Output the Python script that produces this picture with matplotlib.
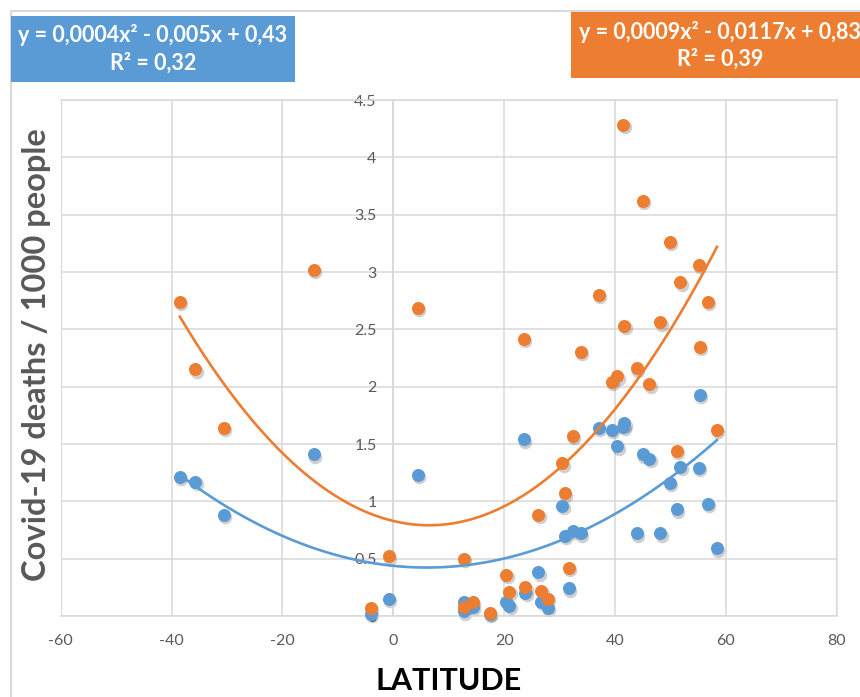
import numpy as np
import matplotlib
matplotlib.use("Agg")
from matplotlib import pyplot as plt
from matplotlib import transforms
from matplotlib.patches import Rectangle

plt.rcParams['font.family'] = ['Lato', 'DejaVu Sans']
plt.rcParams['axes.unicode_minus'] = False

# latitude of each country and deaths per 1000 people (two periods)
lat = [-38.5, -35.7, -30.6, -14.3, -4.1, -0.8, 4.4, 12.7, 12.7, 14.4, 17.4,
       20.4, 20.9, 23.5, 23.8, 26.2, 26.7, 27.9, 30.5, 31.0, 31.7, 32.4, 33.8,
       37.1, 39.4, 40.4, 41.5, 41.7, 43.9, 45.0, 46.2, 48.2, 49.85, 51.1, 51.8,
       55.1, 55.3, 56.8, 58.4]
deaths_blue = [1.21, 1.17, 0.88, 1.41, 0.02, 0.15, 1.23, 0.12, 0.04, 0.08, 0.02,
               0.12, 0.09, 1.54, 0.20, 0.38, 0.12, 0.07, 0.96, 0.70, 0.24, 0.74, 0.72,
               1.64, 1.62, 1.48, 1.65, 1.68, 0.72, 1.41, 1.37, 0.72, 1.16, 0.93, 1.30,
               1.29, 1.93, 0.98, 0.59]
deaths_orange = [2.74, 2.15, 1.64, 3.02, 0.07, 0.52, 2.69, 0.50, 0.08, 0.12, 0.03,
                 0.36, 0.21, 2.42, 0.25, 0.88, 0.22, 0.15, 1.33, 1.07, 0.42, 1.57, 2.30,
                 2.80, 2.04, 2.09, 4.28, 2.53, 2.16, 3.62, 2.02, 2.56, 3.26, 1.44, 2.91,
                 3.06, 2.35, 2.74, 1.62]

eq_blue = "y = 0,0004x\u00b2 - 0,005x + 0,43\nR\u00b2 = 0,32"
eq_orange = "y = 0,0009x\u00b2 - 0,0117x + 0,83\nR\u00b2 = 0,39"

xticks = [-60, -40, -20, 0, 20, 40, 60, 80]
yticks = [0, 0.5, 1, 1.5, 2, 2.5, 3, 3.5, 4, 4.5]

blue = '#5B9BD5'
orange = '#ED7D31'
grid = '#D9D9D9'
txt = '#595959'

fig = plt.figure(figsize=(8.6, 6.97), dpi=100)
ax = fig.add_axes([60.7/860, 1-616/697, (836.7-60.7)/860, (616-100)/697])

shadow = transforms.offset_copy(ax.transData, fig=fig, x=1.0, y=-1.6, units='points')
for ys, c in [(deaths_blue, blue), (deaths_orange, orange)]:
    ax.scatter(lat, ys, s=95, color='#404040', alpha=0.25, lw=0, transform=shadow,
               zorder=2, clip_on=False)
    ax.scatter(lat, ys, s=88, color=c, lw=0, zorder=3, clip_on=False)

# second order polynomial trendlines
xs = np.linspace(min(lat), max(lat), 200)
for ys, c in [(deaths_blue, blue), (deaths_orange, orange)]:
    p = np.polyfit(lat, ys, 2)
    ax.plot(xs, np.polyval(p, xs), color=c, lw=1.9, zorder=4)

ax.set_xlim(-60, 80)
ax.set_ylim(0, 4.5)
ax.set_xticks(xticks)
ax.set_yticks(yticks)
ax.set_xticklabels([str(v) for v in xticks])
ax.set_yticklabels(['%g' % v for v in yticks])
ax.grid(True, color=grid, lw=1.1, zorder=0)
ax.set_axisbelow(True)
for s in ax.spines.values():
    s.set_color(grid)
    s.set_linewidth(1.1)
ax.spines['left'].set_position(('data', 0))
ax.axvline(-60, color=grid, lw=1.6, zorder=0)
ax.tick_params(length=0, labelsize=11.5, colors=txt)
ax.tick_params(axis='y', pad=12)
ax.tick_params(axis='x', pad=13)

fig.text(37/860, 1-355/697, 'Covid-19 deaths / 1000 people', rotation=90,
         ha='center', va='center', fontsize=23.5, fontweight='bold', color=txt)
fig.text(449/860, 1-680.5/697, 'LATITUDE', ha='center', va='center',
         fontsize=22, fontweight='bold', color='black')

# chart border
fig.patches.append(Rectangle((10.5/860, -0.1), 1.0, 1-10.5/697+0.1, transform=fig.transFigure,
                             fill=False, edgecolor=grid, lw=1.5))

# equation boxes
fig.patches.append(Rectangle((11/860, 1-81.7/697), 284/860, 65.7/697,
                             transform=fig.transFigure, color=blue, lw=0))
fig.text(153/860, 1-49/697, eq_blue, ha='center', va='center', fontsize=15.5,
         fontweight='bold', color='white', linespacing=1.35)
fig.patches.append(Rectangle((570.7/860, 1-78.3/697), 300/860, 66/697,
                             transform=fig.transFigure, color=orange, lw=0))
fig.text(720/860, 1-45.5/697, eq_orange, ha='center', va='center', fontsize=15.5,
         fontweight='bold', color='white', linespacing=1.35)

fig.savefig('out.png', dpi=100)
